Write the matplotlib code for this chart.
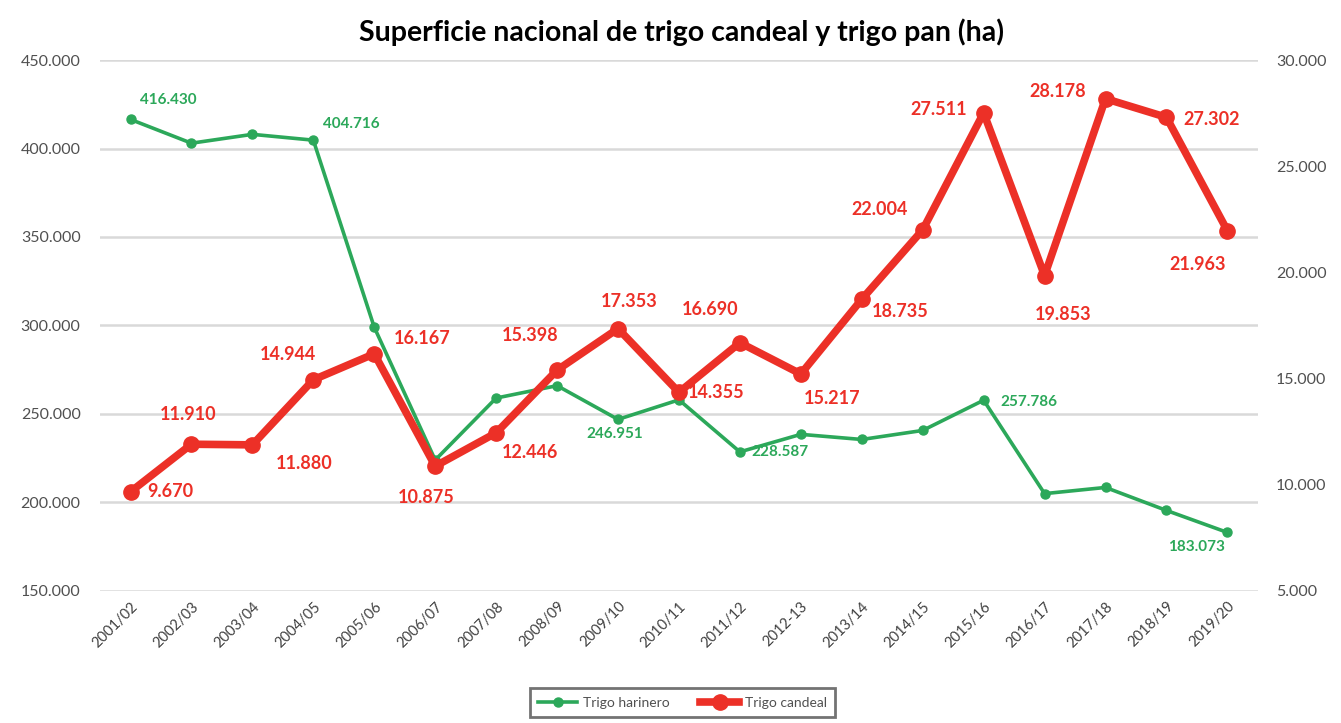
import matplotlib
matplotlib.use("Agg")
import matplotlib.pyplot as plt
from matplotlib.ticker import FuncFormatter

plt.rcParams["font.family"] = ["Lato", "DejaVu Sans"]

seasons = ["2001/02", "2002/03", "2003/04", "2004/05", "2005/06", "2006/07", "2007/08",
           "2008/09", "2009/10", "2010/11", "2011/12", "2012-13", "2013/14", "2014/15",
           "2015/16", "2016/17", "2017/18", "2018/19", "2019/20"]
harinero = [416430, 403000, 408000, 404716, 299000, 224000, 259000, 266000, 246951, 258000,
            228587, 238500, 235600, 240700, 257786, 205000, 208500, 195500, 183073]
candeal = [9670, 11910, 11880, 14944, 16167, 10875, 12446, 15398, 17353, 14355,
           16690, 15217, 18735, 22004, 27511, 19853, 28178, 27302, 21963]

# which green points carry a label
harinero_labeled = [0, 3, 8, 10, 14, 18]

# label offsets in pixels (dx, dy), placed by eye
red_off = [(40, 0), (-3, 30), (52, -19), (-25, 25), (48, 15), (-9, -31), (34, -20),
           (-27, 35), (11, 27), (37, 0), (-30, 33), (31, -25), (38, -12), (-43, 20),
           (-45, 3), (19, -39), (-48, 7), (45, -2), (-30, -34)]
green_off = {0: (38, 19), 3: (38, 16), 8: (-3, -15), 10: (40, 0), 14: (45, -2), 18: (-31, -15)}

GREEN = "#2ca85a"
RED = "#ec3027"


def fmt(v):
    return f"{int(v):,}".replace(",", ".")


fig = plt.figure(figsize=(13.41, 7.23), dpi=100)
ax = fig.add_axes([0.0746, 0.1826, 0.8634, 0.7344])
ax2 = ax.twinx()

x = list(range(len(seasons)))
l1, = ax.plot(x, harinero, color=GREEN, lw=2.6, marker="o", ms=6.5, label="Trigo harinero", zorder=3)
l2, = ax2.plot(x, candeal, color=RED, lw=5.5, marker="o", ms=11, label="Trigo candeal", zorder=3)

ax.set_xlim(-0.5, len(seasons) - 0.5)
ax.set_ylim(150000, 450000)
ax.set_yticks(range(150000, 450001, 50000))
ax2.set_ylim(5000, 30000)
ax2.set_yticks(range(5000, 30001, 5000))
ax.yaxis.set_major_formatter(FuncFormatter(lambda v, p: fmt(v)))
ax2.yaxis.set_major_formatter(FuncFormatter(lambda v, p: fmt(v)))

ax.set_xticks(x)
ax.set_xticklabels(seasons, rotation=45, ha="right", rotation_mode="anchor", fontsize=10.5,
                   color="#404040")
ax.tick_params(axis="y", labelsize=11.5, labelcolor="#505050", length=0, pad=14)
ax2.tick_params(axis="y", labelsize=11.5, labelcolor="#505050", length=0, pad=13)
ax.tick_params(axis="x", length=0, pad=6)

ax.grid(axis="y", color="#d9d9d9", lw=1.8)
ax.set_axisbelow(True)
for a in (ax, ax2):
    for s in a.spines.values():
        s.set_visible(False)

for i in harinero_labeled:
    dx, dy = green_off[i]
    ax.annotate(fmt(harinero[i]), (x[i], harinero[i]), xytext=(dx, dy), textcoords="offset pixels",
                ha="center", va="center", fontsize=11, fontweight="bold", color=GREEN)

for i, v in enumerate(candeal):
    dx, dy = red_off[i]
    ax2.annotate(fmt(v), (x[i], v), xytext=(dx, dy), textcoords="offset pixels",
                 ha="center", va="center", fontsize=13, fontweight="bold", color=RED, zorder=5)

fig.text(0.508, 0.956, "Superficie nacional de trigo candeal y trigo pan (ha)",
         ha="center", va="center", fontsize=20.5, fontweight="bold", color="black")

leg = fig.legend([l1, l2], ["Trigo harinero", "Trigo candeal"], loc="center",
                 bbox_to_anchor=(0.509, 0.028), ncol=2, fontsize=10, frameon=True,
                 fancybox=False, edgecolor="#505050", handlelength=2.8, handletextpad=0.4,
                 columnspacing=2.2, borderpad=0.6)
leg.get_frame().set_linewidth(2)
for t in leg.get_texts():
    t.set_color("#505050")

fig.savefig("out.png", dpi=100)
